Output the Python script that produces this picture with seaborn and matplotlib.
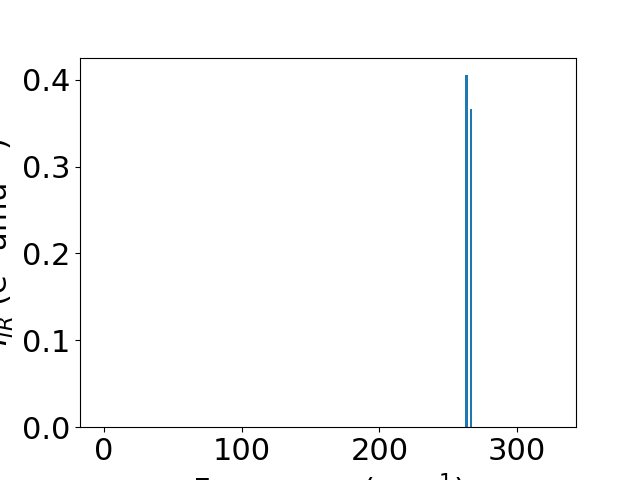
import matplotlib
matplotlib.use("Agg")
import matplotlib.pyplot as plt
import seaborn as sns
import pandas as pd

frequencies = [263.3, 266.6]
intensities = [0.4052, 0.3666]

plt.rcParams['font.size'] = 22

df = pd.DataFrame({"freq": frequencies, "ir": intensities})

fig, ax = plt.subplots(figsize=(6.4, 4.8), dpi=100)
sns.barplot(data=df, x="freq", y="ir", native_scale=True, width=0.62,
            color="#1f77b4", saturation=1, ax=ax)
ax.set_xlim(-17.4, 342.8)
ax.set_ylim(0, 0.4254)
ax.set_xticks([0, 100, 200, 300])
ax.set_yticks([0.0, 0.1, 0.2, 0.3, 0.4])
ax.set_xlabel(r"Frequency (cm$^{-1}$)")
ax.set_ylabel(r"$I_{IR}$ (e$^2$ amu$^{-1}$)")
fig.subplots_adjust(left=0.125, right=0.9, bottom=0.11, top=0.88)
fig.savefig("out.png", dpi=100)
